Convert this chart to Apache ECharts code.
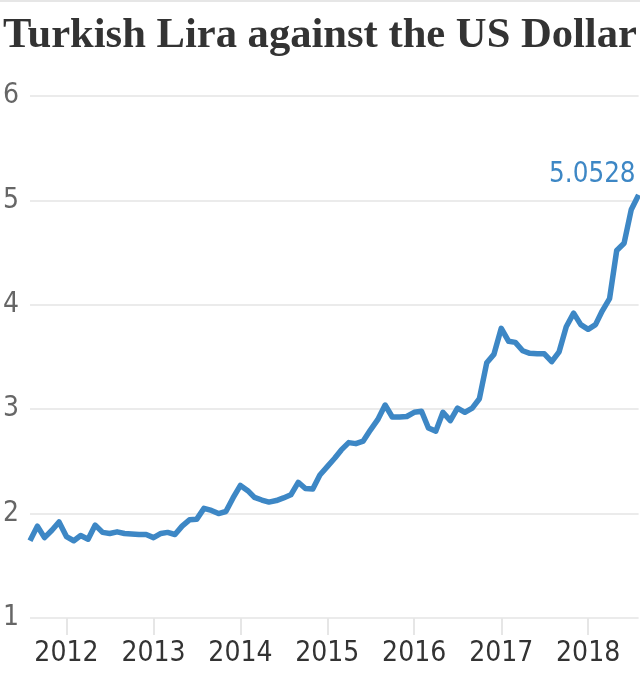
<!DOCTYPE html>
<html>
<head>
<meta charset="utf-8">
<script src="https://cdn.jsdelivr.net/npm/echarts@6/dist/echarts.min.js"></script>
<style>
html,body{margin:0;padding:0;background:#fff;}
#chart{width:640px;height:683px;}
</style>
</head>
<body>
<div id="chart"></div>
<script>
var titleText = 'Turkish Lira against the US Dollar';
var months = [
'2011-08','2011-09','2011-10','2011-11','2011-12',
'2012-01','2012-02','2012-03','2012-04','2012-05','2012-06','2012-07','2012-08','2012-09','2012-10','2012-11','2012-12',
'2013-01','2013-02','2013-03','2013-04','2013-05','2013-06','2013-07','2013-08','2013-09','2013-10','2013-11','2013-12',
'2014-01','2014-02','2014-03','2014-04','2014-05','2014-06','2014-07','2014-08','2014-09','2014-10','2014-11','2014-12',
'2015-01','2015-02','2015-03','2015-04','2015-05','2015-06','2015-07','2015-08','2015-09','2015-10','2015-11','2015-12',
'2016-01','2016-02','2016-03','2016-04','2016-05','2016-06','2016-07','2016-08','2016-09','2016-10','2016-11','2016-12',
'2017-01','2017-02','2017-03','2017-04','2017-05','2017-06','2017-07','2017-08','2017-09','2017-10','2017-11','2017-12',
'2018-01','2018-02','2018-03','2018-04','2018-05','2018-06','2018-07','2018-08'
];
var rates = [
1.74,1.88,1.77,1.84,1.92,
1.78,1.74,1.79,1.755,1.89,1.82,1.81,1.825,1.81,1.805,1.80,1.80,
1.77,1.81,1.82,1.80,1.88,1.94,1.945,2.05,2.03,2.00,2.02,2.15,
2.27,2.22,2.155,2.13,2.11,2.125,2.15,2.18,2.30,2.24,2.235,2.37,
2.45,2.53,2.61,2.68,2.67,2.695,2.80,2.90,3.04,2.925,2.925,2.93,
2.97,2.98,2.82,2.79,2.97,2.89,3.01,2.97,3.01,3.10,3.445,3.525,
3.775,3.65,3.64,3.56,3.535,3.53,3.53,3.455,3.55,3.79,3.92,3.81,
3.765,3.81,3.94,4.06,4.52,4.59,4.91,5.0528
];
var yTicks = [1, 2, 3, 4, 5, 6];

var lineColor = '#3d87c5';
var axisFont = 'DejaVu Sans Condensed, DejaVu Sans';
var seriesData = months.map(function (m, i) {
  return [m + '-01', rates[i]];
});

var chart = echarts.init(document.getElementById('chart'), null, { renderer: 'canvas' });
var YEAR = 365 * 24 * 3600 * 1000;
chart.setOption({
  animation: false,
  backgroundColor: '#ffffff',
  title: {
    text: titleText,
    left: -2,
    top: 9,
    textStyle: {
      fontFamily: 'Liberation Serif',
      fontWeight: 'bold',
      fontSize: 42.6,
      color: '#333333'
    }
  },
  graphic: [{
    type: 'rect',
    shape: { x: 0, y: 0, width: 640, height: 2 },
    style: { fill: '#e6e6e6' }
  }],
  grid: { left: 28.5, right: 1.4, top: 96, bottom: 65, containLabel: false },
  xAxis: {
    type: 'time',
    min: months[0] + '-01',
    max: months[months.length - 1] + '-01',
    minInterval: YEAR,
    maxInterval: YEAR + 2 * 24 * 3600 * 1000,
    axisLine: { show: false },
    axisTick: { show: true, length: 17, lineStyle: { color: '#e6e6e6', width: 2 } },
    splitLine: { show: false },
    axisLabel: {
      margin: 22,
      fontFamily: axisFont,
      fontSize: 28,
      color: '#333333',
      showMinLabel: false,
      showMaxLabel: false,
      formatter: function (v) { return String(new Date(v).getFullYear()); }
    }
  },
  yAxis: {
    type: 'value',
    min: yTicks[0],
    max: yTicks[yTicks.length - 1],
    interval: 1,
    axisLine: { show: false },
    axisTick: { show: false },
    splitLine: { show: true, lineStyle: { color: '#ebebeb', width: 2 } },
    axisLabel: {
      align: 'left',
      margin: 27,
      fontFamily: axisFont,
      fontSize: 28,
      color: '#666666'
    }
  },
  series: [{
    type: 'line',
    data: seriesData,
    showSymbol: false,
    symbol: 'none',
    lineStyle: { color: lineColor, width: 5.5, join: 'round' },
    itemStyle: { color: lineColor },
    clip: false,
    endLabel: {
      show: true,
      align: 'right',
      verticalAlign: 'bottom',
      distance: 0,
      offset: [-3, -6],
      formatter: function (p) { return p.value[1].toFixed(4); },
      color: lineColor,
      fontFamily: axisFont,
      fontSize: 27.5
    }
  }]
});
</script>
</body>
</html>
